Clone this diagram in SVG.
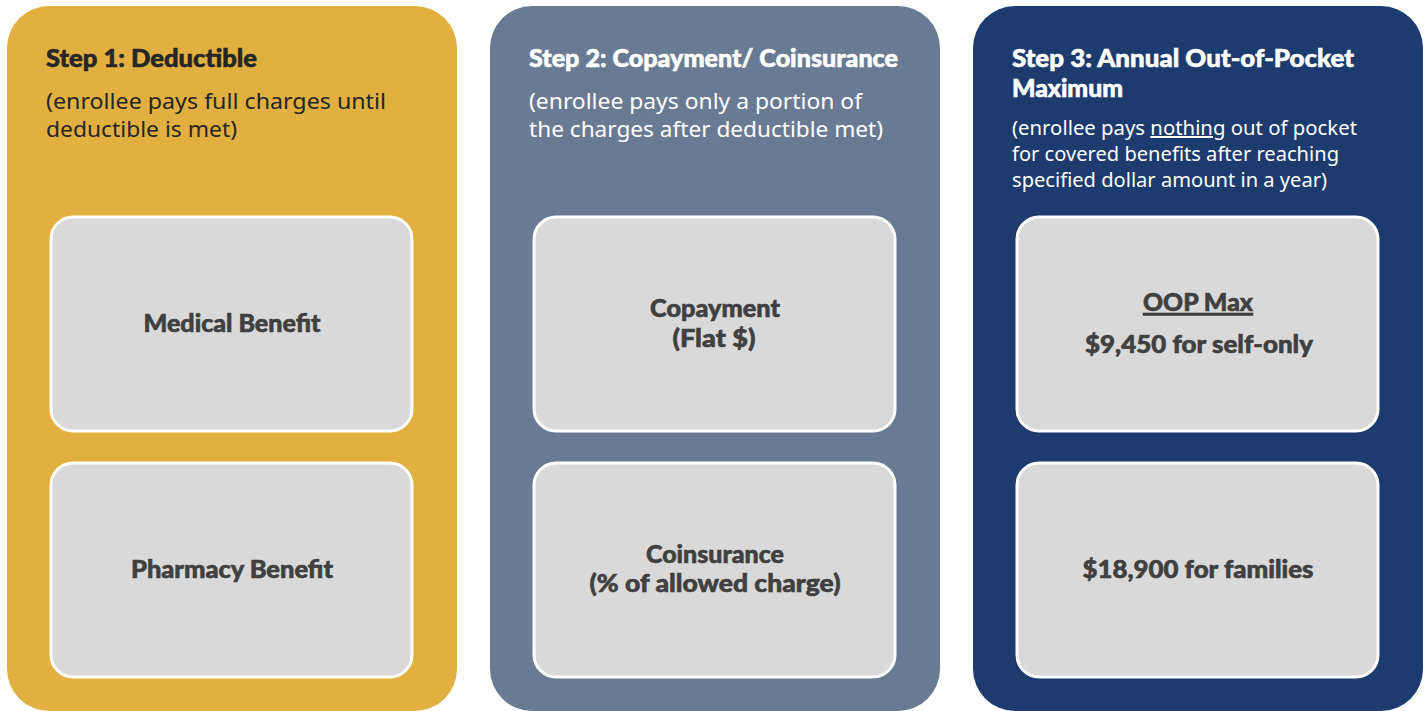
<svg xmlns="http://www.w3.org/2000/svg" width="1427" height="711" viewBox="0 0 1427 711">
<style>
.title{font-family:Lato,"Noto Sans",sans-serif;font-weight:900;font-size:25px;stroke-width:0.6}
.sub{font-family:"Noto Sans","Open Sans",sans-serif;font-size:22px}
.sub3{font-family:"Noto Sans","Open Sans",sans-serif;font-size:20px}
.panel{rx:42px}
.inner{fill:#D9D9D9;stroke:#FFFFFF;stroke-width:3}
.lbl{font-family:Lato,"Noto Sans",sans-serif;font-weight:900;font-size:25px;fill:#404040;stroke:#404040;stroke-width:0.6;text-anchor:middle}
</style>
<rect width="1427" height="711" fill="#FFFFFF"/>
<g id="step1">
<rect class="panel" x="7" y="6" width="450" height="705" rx="42" fill="#E2B040"/>
<text class="title" x="46" y="67" fill="#262626" stroke="#262626" textLength="211" lengthAdjust="spacingAndGlyphs">Step 1: Deductible</text>
<text class="sub" fill="#262626"><tspan x="46" y="109" textLength="340" lengthAdjust="spacingAndGlyphs">(enrollee pays full charges until</tspan><tspan x="46" y="137" textLength="191" lengthAdjust="spacingAndGlyphs">deductible is met)</tspan></text>
</g>
<g id="medical">
<rect class="inner" x="51" y="217" width="361" height="214" rx="22"/>
<text class="lbl" x="232" y="332" textLength="177" lengthAdjust="spacingAndGlyphs">Medical Benefit</text>
</g>
<g id="pharmacy">
<rect class="inner" x="51" y="463" width="361" height="214" rx="22"/>
<text class="lbl" x="232" y="578" textLength="202" lengthAdjust="spacingAndGlyphs">Pharmacy Benefit</text>
</g>
<g id="step2">
<rect class="panel" x="490" y="6" width="450" height="705" rx="42" fill="#687B93"/>
<text class="title" x="529" y="67" fill="#FFFFFF" stroke="#FFFFFF" textLength="369" lengthAdjust="spacingAndGlyphs">Step 2: Copayment/ Coinsurance</text>
<text class="sub" fill="#FFFFFF"><tspan x="529" y="109" textLength="333" lengthAdjust="spacingAndGlyphs">(enrollee pays only a portion of</tspan><tspan x="529" y="137" textLength="354" lengthAdjust="spacingAndGlyphs">the charges after deductible met)</tspan></text>
</g>
<g id="copayment">
<rect class="inner" x="534" y="217" width="361" height="214" rx="22"/>
<text class="lbl" x="715" y="317" textLength="130" lengthAdjust="spacingAndGlyphs">Copayment</text>
<text class="lbl" x="714" y="347" textLength="83" lengthAdjust="spacingAndGlyphs">(Flat $)</text>
</g>
<g id="coinsurance">
<rect class="inner" x="534" y="463" width="361" height="214" rx="22"/>
<text class="lbl" x="715" y="563" textLength="138" lengthAdjust="spacingAndGlyphs">Coinsurance</text>
<text class="lbl" x="715" y="592" textLength="251" lengthAdjust="spacingAndGlyphs">(% of allowed charge)</text>
</g>
<g id="step3">
<rect class="panel" x="973" y="6" width="450" height="705" rx="42" fill="#1D3B6E"/>
<text class="title" fill="#FFFFFF" stroke="#FFFFFF"><tspan x="1012" y="67" textLength="342" lengthAdjust="spacingAndGlyphs">Step 3: Annual Out-of-Pocket</tspan><tspan x="1012" y="97" textLength="111" lengthAdjust="spacingAndGlyphs">Maximum</tspan></text>
<text class="sub3" fill="#FFFFFF" x="1012" y="135" textLength="345" lengthAdjust="spacingAndGlyphs">(enrollee pays <tspan text-decoration="underline">nothing</tspan> out of pocket</text>
<text class="sub3" fill="#FFFFFF" x="1012" y="161" textLength="327" lengthAdjust="spacingAndGlyphs">for covered benefits after reaching</text>
<text class="sub3" fill="#FFFFFF" x="1012" y="187" textLength="315" lengthAdjust="spacingAndGlyphs">specified dollar amount in a year)</text>
</g>
<g id="oopmax">
<rect class="inner" x="1017" y="217" width="361" height="214" rx="22"/>
<text class="lbl" x="1198" y="311" textLength="110" lengthAdjust="spacingAndGlyphs" text-decoration="underline">OOP Max</text>
<text class="lbl" x="1199" y="353" textLength="228" lengthAdjust="spacingAndGlyphs">$9,450 for self-only</text>
</g>
<g id="families">
<rect class="inner" x="1017" y="463" width="361" height="214" rx="22"/>
<text class="lbl" x="1198" y="578" textLength="231" lengthAdjust="spacingAndGlyphs">$18,900 for families</text>
</g>
<g id="connectors"></g>
</svg>
